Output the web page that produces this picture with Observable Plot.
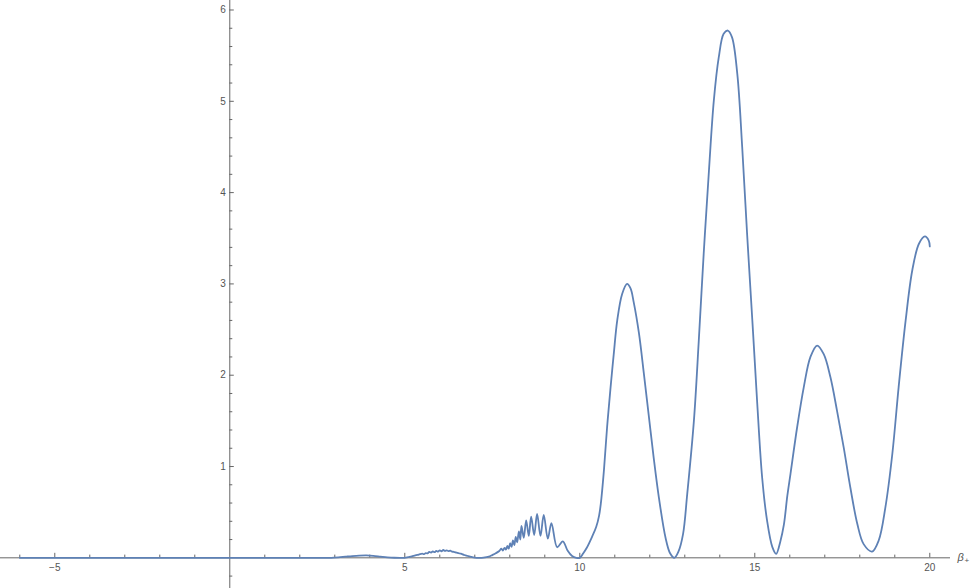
<!DOCTYPE html>
<html>
<head>
<meta charset="utf-8">
<script src="https://cdn.jsdelivr.net/npm/d3@7"></script>
<script src="https://cdn.jsdelivr.net/npm/@observablehq/plot@0.6"></script>
<style>
  html, body { margin: 0; padding: 0; background: #fff; }
  #chart svg { display: block; }
</style>
</head>
<body>
<div id="chart"></div>
<script>
// ---- data ----
const curveX = [
  -6, 2.8, 2.9, 3.1, 3.3, 3.5, 3.7, 3.9, 4.1, 4.3, 4.5, 4.7, 4.9, 5.0,
  5.1, 5.2, 5.3, 5.4, 5.5, 5.55, 5.6, 5.65, 5.7, 5.75, 5.8, 5.85, 5.9, 5.95, 6.0,
  6.05, 6.1, 6.15, 6.2, 6.25, 6.3, 6.35, 6.4, 6.45, 6.5, 6.6, 6.7, 6.8, 6.9, 7.0, 7.1,
  7.25, 7.4, 7.5, 7.6, 7.7, 7.76, 7.8, 7.85, 7.89, 7.93, 7.97, 8.01, 8.05, 8.09,
  8.13, 8.17, 8.21, 8.26, 8.30, 8.334, 8.40, 8.468, 8.543, 8.61, 8.697, 8.78,
  8.877, 8.97, 9.086, 9.19, 9.354, 9.515, 9.65, 9.78, 9.9, 10.0,
  10.1, 10.2, 10.35, 10.47, 10.55, 10.60, 10.69, 10.78, 10.88, 10.97, 11.07, 11.21,
  11.35, 11.45, 11.54, 11.69, 11.83, 11.97, 12.11, 12.26, 12.45, 12.58, 12.70,
  12.82, 12.95, 13.07, 13.26, 13.40, 13.54, 13.69, 13.83, 13.97, 14.11, 14.23,
  14.35, 14.50, 14.64, 14.78, 14.93, 15.07, 15.21, 15.35, 15.50, 15.61, 15.73,
  15.83, 15.93, 16.02, 16.21, 16.40, 16.59, 16.78, 16.97, 17.16, 17.35, 17.54,
  17.73, 17.93, 18.11, 18.35, 18.54, 18.73, 18.93, 19.11, 19.31, 19.50, 19.69,
  19.86, 19.97, 20.0
];
const curveY = [
  0, 0, 0, 0.005, 0.012, 0.019, 0.024, 0.026, 0.022, 0.014, 0.006, 0.001, 0, 0,
  0.008, 0.016, 0.028, 0.036, 0.045, 0.040, 0.052, 0.048, 0.064, 0.058, 0.070, 0.062, 0.076, 0.068, 0.082,
  0.072, 0.086, 0.076, 0.082, 0.074, 0.078, 0.068, 0.066, 0.060, 0.055, 0.045, 0.031, 0.020, 0.010, 0.003, 0,
  0.002, 0.012, 0.030, 0.050, 0.075, 0.10, 0.08, 0.11, 0.09, 0.13, 0.10, 0.16, 0.12, 0.19,
  0.14, 0.23, 0.17, 0.29, 0.20, 0.35, 0.22, 0.41, 0.24, 0.45, 0.25, 0.48,
  0.24, 0.47, 0.21, 0.38, 0.116, 0.18, 0.08, 0.02, 0, 0,
  0.05, 0.11, 0.23, 0.34, 0.46, 0.59, 0.96, 1.43, 1.87, 2.23, 2.60, 2.89,
  3.00, 2.95, 2.80, 2.46, 2.02, 1.56, 1.10, 0.66, 0.22, 0.05, 0,
  0.07, 0.26, 0.70, 1.50, 2.38, 3.33, 4.24, 5.01, 5.48, 5.74, 5.775,
  5.70, 5.30, 4.50, 3.55, 2.60, 1.69, 0.88, 0.41, 0.12, 0.044, 0.18,
  0.36, 0.68, 0.92, 1.43, 1.87, 2.20, 2.325, 2.23, 1.98, 1.61, 1.21,
  0.77, 0.37, 0.15, 0.069, 0.19, 0.55, 1.14, 1.87, 2.60, 3.15, 3.44,
  3.52, 3.475, 3.41
];
const xTickLabels = [-5, 5, 10, 15, 20];
const xMinorTicks = [-6, -4, -3, -2, -1, 1, 2, 3, 4, 6, 7, 8, 9, 11, 12, 13, 14, 16, 17, 18, 19];
const yTickLabels = [1, 2, 3, 4, 5, 6];
const yMinorTicks = [-0.2, 0.2, 0.4, 0.6, 0.8, 1.2, 1.4, 1.6, 1.8, 2.2, 2.4, 2.6, 2.8,
  3.2, 3.4, 3.6, 3.8, 4.2, 4.4, 4.6, 4.8, 5.2, 5.4, 5.6, 5.8];
const xAxisLabel = "β";
const xAxisLabelSub = "+";

// ---- build ----
const points = curveX.map((x, i) => ({x, y: curveY[i]}));
const axisColor = "#666";
const labelColor = "#555";
const fontFamily = "'Liberation Sans', Arial, sans-serif";
const fmt = d => d < 0 ? "\u2212" + (-d) : String(d);

const chart = Plot.plot({
  width: 970,
  height: 588,
  marginTop: 0, marginRight: 0, marginBottom: 0, marginLeft: 0,
  style: {background: "white", fontFamily},
  x: {domain: [-6.551, 21.163], axis: null},
  y: {domain: [-0.336, 6.104], axis: null},
  marks: [
    Plot.ruleY([0], {stroke: axisColor, strokeWidth: 1, insetRight: 20}),
    Plot.ruleX([0], {stroke: axisColor, strokeWidth: 1}),
    Plot.ruleX(xTickLabels, {x: d => d, y1: 0, y2: 0, insetBottom: 4.5, stroke: axisColor}),
    Plot.ruleX(xMinorTicks, {x: d => d, y1: 0, y2: 0, insetBottom: 2.7, stroke: axisColor}),
    Plot.ruleY(yTickLabels, {y: d => d, x1: 0, x2: 0, insetRight: -4.5, stroke: axisColor}),
    Plot.ruleY(yMinorTicks, {y: d => d, x1: 0, x2: 0, insetRight: -3, stroke: axisColor}),
    Plot.text(xTickLabels, {x: d => d, y: 0, dy: 9.5, text: fmt, fill: labelColor,
      fontSize: 10, textAnchor: "middle", lineAnchor: "middle"}),
    Plot.text(yTickLabels, {y: d => d, x: 0, dx: -4, text: fmt, fill: labelColor,
      fontSize: 10, textAnchor: "end", lineAnchor: "middle"}),
    Plot.text([xAxisLabel], {frameAnchor: "right", y: 0, dx: -13, text: d => d,
      fill: labelColor, fontSize: 11, fontStyle: "italic", textAnchor: "start", lineAnchor: "middle"}),
    Plot.text([xAxisLabelSub], {frameAnchor: "right", y: 0, dx: -6, dy: 3, text: d => d,
      fill: labelColor, fontSize: 8, textAnchor: "start", lineAnchor: "middle"}),
    Plot.line(points, {x: "x", y: "y", stroke: "#5E81B5", strokeWidth: 1.8, curve: "catmull-rom"})
  ]
});
document.getElementById("chart").appendChild(chart);
</script>
</body>
</html>
